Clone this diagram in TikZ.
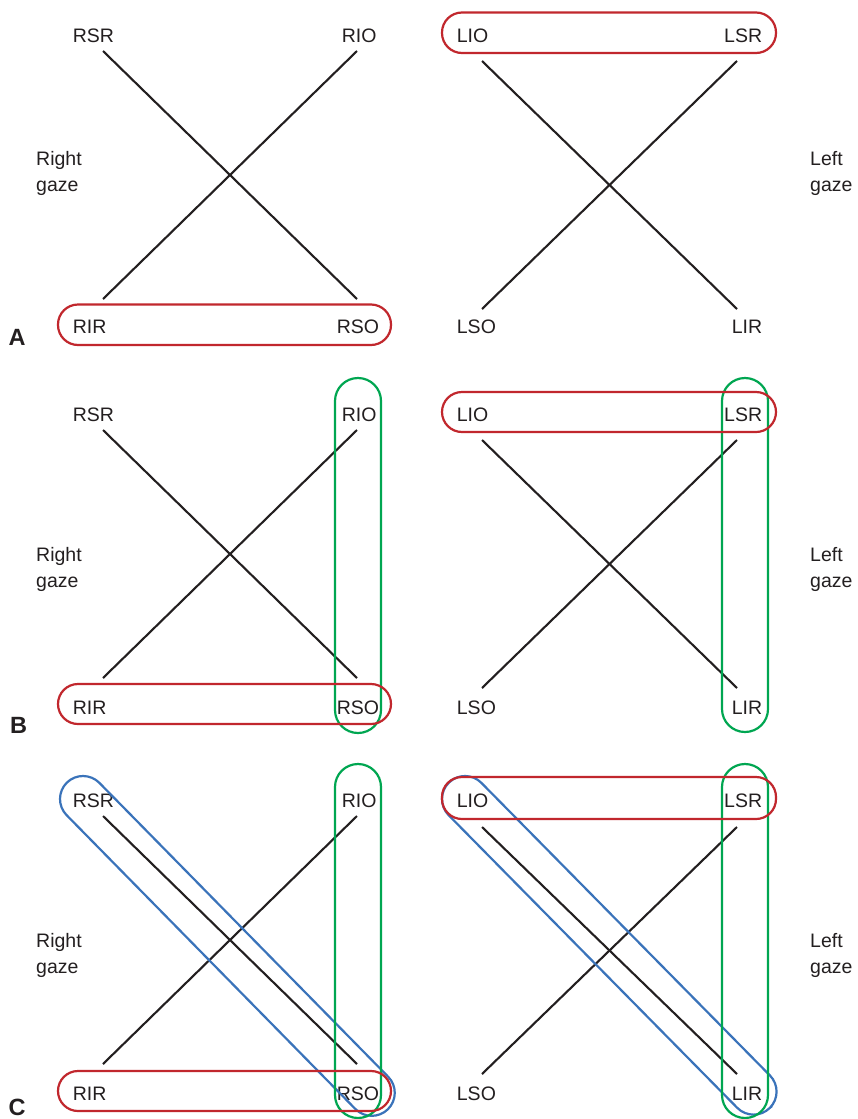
\documentclass[tikz,border=0pt]{standalone}
\usepackage{fontspec}
\setmainfont{Liberation Sans}
\definecolor{txt}{HTML}{231F20}
\definecolor{rd}{HTML}{C1272D}
\definecolor{gn}{HTML}{00A651}
\definecolor{bl}{HTML}{3A73BA}
\begin{document}
\begin{tikzpicture}[x=1pt,y=-1pt,
  lab/.style={inner sep=0pt,text=txt,font=\fontsize{19.5}{26}\selectfont},
  labl/.style={lab,anchor=base west},
  labr/.style={lab,anchor=base east},
  gazelab/.style={lab,anchor=base west,align=left},
  panel/.style={inner sep=0pt,text=txt,anchor=base west,font=\fontsize{23.5}{28}\selectfont\bfseries},
  muscle/.style={line width=2.1pt,txt},
  redbox/.style={line width=2.2pt,rd,rounded corners=20pt},
  greenbox/.style={line width=2.2pt,gn,rounded corners=23pt},
  bluebox/.style={line width=2.2pt,bl,rounded corners=23pt}]
\useasboundingbox (0,0) rectangle (858,1119);
\fill[white] (0,0) rectangle (858,1119);

% ---------------- Panel A ----------------
\node[labl] (aRSR) at (72.7,42) {RSR};
\node[labr] (aRIO) at (376.7,42) {RIO};
\node[labl] (aRIR) at (72.7,333) {RIR};
\node[labr] (aRSO) at (379.3,333) {RSO};
\node[labl] (aLIO) at (456.7,42) {LIO};
\node[labr] (aLSR) at (762.3,42) {LSR};
\node[labl] (aLSO) at (456.7,333) {LSO};
\node[labr] (aLIR) at (762.3,333) {LIR};
\node[gazelab] (aRG) at (36,191) {Right\\gaze};
\node[gazelab] (aLG) at (810,191) {Left\\gaze};
\node[panel] (aP) at (8.5,345) {A};
\coordinate (aRSRp) at (103,51);  \coordinate (aRSOp) at (357,299);
\coordinate (aRIOp) at (357,51);  \coordinate (aRIRp) at (103,299);
\coordinate (aLIOp) at (482,61);  \coordinate (aLIRp) at (737,309);
\coordinate (aLSRp) at (737,61);  \coordinate (aLSOp) at (482,309);
\draw[muscle] (aRSRp) -- (aRSOp);
\draw[muscle] (aRIOp) -- (aRIRp);
\draw[muscle] (aLIOp) -- (aLIRp);
\draw[muscle] (aLSRp) -- (aLSOp);
\draw[redbox] (58,304.5) rectangle (391,345);
\draw[redbox] (442,12.5) rectangle (776,53);

% ---------------- Panel B ----------------
\node[labl] (bRSR) at (72.7,421) {RSR};
\node[labr] (bRIO) at (376.7,421) {RIO};
\node[labl] (bRIR) at (72.7,714) {RIR};
\node[labr] (bRSO) at (379.3,714) {RSO};
\node[labl] (bLIO) at (456.7,421) {LIO};
\node[labr] (bLSR) at (762.3,421) {LSR};
\node[labl] (bLSO) at (456.7,714) {LSO};
\node[labr] (bLIR) at (762.3,714) {LIR};
\node[gazelab] (bRG) at (36,587) {Right\\gaze};
\node[gazelab] (bLG) at (810,587) {Left\\gaze};
\node[panel] (bP) at (10,733) {B};
\coordinate (bRSRp) at (103,430);  \coordinate (bRSOp) at (357,678);
\coordinate (bRIOp) at (357,430);  \coordinate (bRIRp) at (103,678);
\coordinate (bLIOp) at (482,440);  \coordinate (bLIRp) at (737,688);
\coordinate (bLSRp) at (737,440);  \coordinate (bLSOp) at (482,688);
\draw[muscle] (bRSRp) -- (bRSOp);
\draw[muscle] (bRIOp) -- (bRIRp);
\draw[muscle] (bLIOp) -- (bLIRp);
\draw[muscle] (bLSRp) -- (bLSOp);
\draw[greenbox] (335,378) rectangle (381,733);
\draw[greenbox] (722,378) rectangle (768,732);
\draw[redbox] (58,684) rectangle (391,724);
\draw[redbox] (442,392) rectangle (776,432);

% ---------------- Panel C ----------------
\node[labl] (cRSR) at (72.7,807) {RSR};
\node[labr] (cRIO) at (376.7,807) {RIO};
\node[labl] (cRIR) at (72.7,1100) {RIR};
\node[labr] (cRSO) at (379.3,1100) {RSO};
\node[labl] (cLIO) at (456.7,807) {LIO};
\node[labr] (cLSR) at (762.3,807) {LSR};
\node[labl] (cLSO) at (456.7,1100) {LSO};
\node[labr] (cLIR) at (762.3,1100) {LIR};
\node[gazelab] (cRG) at (36,973) {Right\\gaze};
\node[gazelab] (cLG) at (810,973) {Left\\gaze};
\node[panel] (cP) at (8.5,1115) {C};
\coordinate (cRSRp) at (103,816);  \coordinate (cRSOp) at (357,1064);
\coordinate (cRIOp) at (357,816);  \coordinate (cRIRp) at (103,1064);
\coordinate (cLIOp) at (482,827);  \coordinate (cLIRp) at (737,1074);
\coordinate (cLSRp) at (737,827);  \coordinate (cLSOp) at (482,1074);
\draw[muscle] (cRSRp) -- (cRSOp);
\draw[muscle] (cRIOp) -- (cRIRp);
\draw[muscle] (cLIOp) -- (cLIRp);
\draw[muscle] (cLSRp) -- (cLSOp);
\begin{scope}[shift={(83,799)},rotate=-45.5]
  \draw[bluebox] (-23,-23) rectangle (435,23);
\end{scope}
\begin{scope}[shift={(465,799)},rotate=-45.4]
  \draw[bluebox] (-23,-23) rectangle (434,23);
\end{scope}
\draw[greenbox] (335,764) rectangle (381,1118);
\draw[greenbox] (722,764) rectangle (768,1118);
\draw[redbox] (58,1071) rectangle (391,1111);
\draw[redbox] (442,777) rectangle (776,819);
\end{tikzpicture}
\end{document}
